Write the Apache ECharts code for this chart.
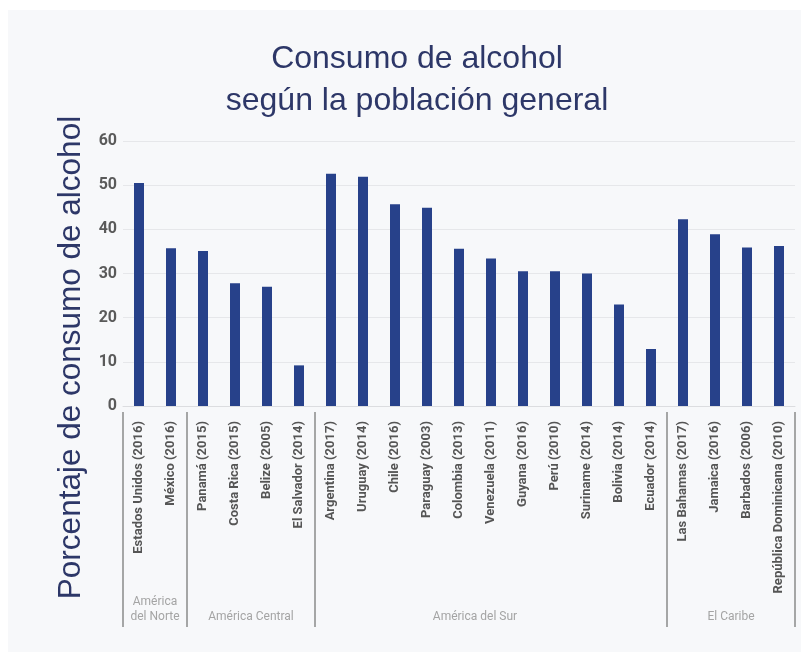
<!DOCTYPE html>
<html>
<head>
<meta charset="utf-8">
<script src="https://cdn.jsdelivr.net/npm/echarts@6/dist/echarts.min.js"></script>
<style>
  html, body { margin: 0; padding: 0; background: #fff; }
  #chart {
    width: 801px; height: 652px;
    background: #f7f8fa;
    box-shadow: inset 8px 10px 0 0 #fff;
  }
</style>
</head>
<body>
<div id="chart"></div>
<script>
// paises (año de la encuesta)
var paises = [
    'Estados Unidos (2016)', 'México (2016)',
    'Panamá (2015)', 'Costa Rica (2015)', 'Belize (2005)', 'El Salvador (2014)',
    'Argentina (2017)', 'Uruguay (2014)', 'Chile (2016)', 'Paraguay (2003)',
    'Colombia (2013)', 'Venezuela (2011)', 'Guyana (2016)', 'Perú (2010)',
    'Suriname (2014)', 'Bolivia (2014)', 'Ecuador (2014)',
    'Las Bahamas (2017)', 'Jamaica (2016)', 'Barbados (2006)', 'República Dominicana (2010)'
];
var consumo = [
    50.5, 35.7,
    35.1, 27.8, 27.0, 9.2,
    52.6, 51.9, 45.7, 44.9, 35.6, 33.4, 30.5, 30.5, 30.0, 23.0, 12.9,
    42.3, 38.9, 35.9, 36.2
];
// regiones: nombre, posicion de la etiqueta (indice), limites
var regiones = ['América\ndel Norte', 'América Central', 'América del Sur', 'El Caribe'];
var regionPos = [0.5, 3.5, 10.5, 18.5];
var regionLimites = [-0.5, 1.5, 5.5, 16.5, 20.5];

var myChart = echarts.init(document.getElementById('chart'));
var option = {
    animation: false,
    title: {
        text: 'Consumo de alcohol\nsegún la población general',
        left: 412,
        top: 33,
        textAlign: 'center',
        textStyle: {
            fontFamily: 'Liberation Sans',
            fontSize: 32,
            fontWeight: 'normal',
            lineHeight: 42,
            color: '#2d3768'
        }
    },
    grid: {
        left: 123,
        right: 6,
        top: 141,
        bottom: 246
    },
    xAxis: [
        {
            type: 'category',
            data: paises,
            axisLine: { lineStyle: { color: '#dcdde0' } },
            axisTick: { show: false },
            axisLabel: {
                interval: 0,
                rotate: 90,
                margin: 15,
                fontFamily: 'Roboto',
                fontWeight: 'bold',
                fontSize: 13,
                color: '#555'
            }
        },
        {
            type: 'value',
            position: 'bottom',
            offset: 221,
            min: -0.5,
            max: 20.5,
            axisLine: { show: false },
            splitLine: { show: false },
            axisTick: {
                show: true,
                inside: true,
                length: 215,
                customValues: regionLimites,
                lineStyle: { color: '#8a8a8a', width: 1.5 }
            },
            axisLabel: {
                inside: true,
                margin: 3,
                customValues: regionPos,
                formatter: function (v) {
                    return regiones[regionPos.indexOf(v)];
                },
                fontFamily: 'Roboto',
                fontSize: 12,
                lineHeight: 15,
                color: '#a4a4a4'
            }
        }
    ],
    yAxis: {
        type: 'value',
        min: 0,
        max: 60,
        interval: 10,
        name: 'Porcentaje de consumo de alcohol',
        nameLocation: 'middle',
        nameGap: 36,
        nameTextStyle: {
            fontFamily: 'Liberation Sans',
            fontSize: 31.5,
            color: '#2d3768',
            padding: [0, 168, 0, 0]
        },
        axisLine: { show: false },
        axisTick: { show: false },
        splitLine: { lineStyle: { color: '#e6e7ea' } },
        axisLabel: {
            margin: 6,
            fontFamily: 'Roboto',
            fontWeight: 'bold',
            fontSize: 16,
            color: '#5a5a5a'
        }
    },
    series: [
        {
            name: 'Consumo',
            type: 'bar',
            xAxisIndex: 0,
            barWidth: 10,
            itemStyle: { color: '#27418a' },
            data: consumo
        }
    ]
};
myChart.setOption(option);
</script>
</body>
</html>
